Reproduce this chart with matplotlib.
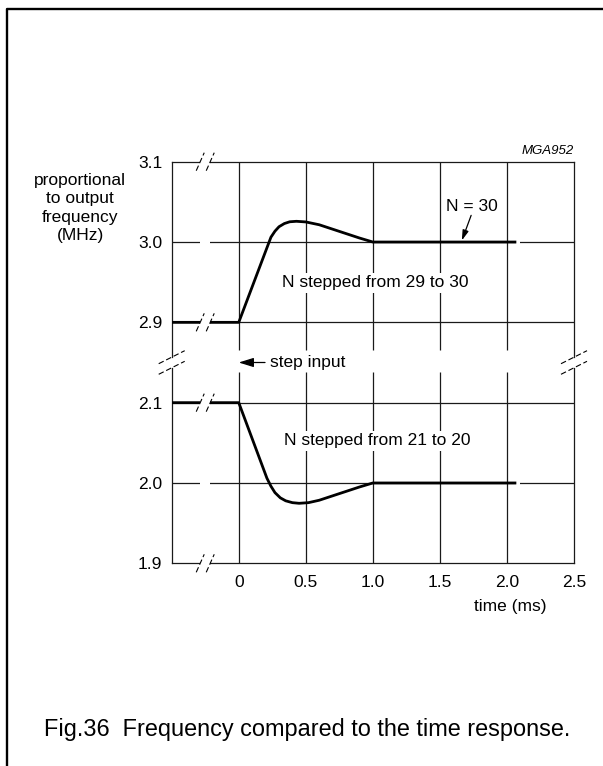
import matplotlib
matplotlib.use('Agg')
import matplotlib.pyplot as plt
from matplotlib.lines import Line2D

plt.rcParams['font.family'] = ['Liberation Sans', 'DejaVu Sans']

# ---------------- data ----------------
time_up = [-0.5, 0.0, 0.24, 0.27, 0.30, 0.34, 0.38, 0.43, 0.50, 0.60, 0.70, 0.80, 0.90, 1.0, 2.07]
freq_up = [2.9, 2.9, 3.006, 3.0135, 3.019, 3.023, 3.0252, 3.0258, 3.025, 3.0215, 3.016, 3.0105, 3.005, 3.0, 3.0]

time_dn = [-0.5, 0.0, 0.21, 0.24, 0.27, 0.31, 0.35, 0.40, 0.45, 0.52, 0.60, 0.70, 0.80, 0.90, 1.0, 2.07]
freq_dn = [2.1, 2.1, 2.006, 1.996, 1.988, 1.9815, 1.9778, 1.9755, 1.9747, 1.9755, 1.9785, 1.984, 1.9895, 1.995, 2.0, 2.0]

x_ticks = [0, 0.5, 1.0, 1.5, 2.0, 2.5]
x_tick_labels = ['0', '0.5', '1.0', '1.5', '2.0', '2.5']
x_grid = [0, 0.5, 1.0, 1.5, 2.0]
y_ticks_up = [2.9, 3.0, 3.1]
y_labels_up = ['2.9', '3.0', '3.1']
y_ticks_dn = [1.9, 2.0, 2.1]
y_labels_dn = ['1.9', '2.0', '2.1']

# ---------------- layout ----------------
W, H = 603, 766
fig = plt.figure(figsize=(W / 100, H / 100), dpi=100)
fig.patch.set_facecolor('white')


def fx(px):
    return px / W


def fy(py):
    return 1 - py / H


L, R = 171.7, 574.0
T, B, M = 161.7, 563.3, 362.5
ax_up = fig.add_axes([fx(L), fy(M), fx(R) - fx(L), fy(T) - fy(M)])
ax_dn = fig.add_axes([fx(L), fy(B), fx(R) - fx(L), fy(M) - fy(B)])
ax_up.patch.set_visible(False)
ax_dn.patch.set_visible(False)

ax_up.set_xlim(-0.5, 2.5)
ax_up.set_ylim(2.85, 3.1)
ax_dn.set_xlim(-0.5, 2.5)
ax_dn.set_ylim(1.9, 2.15)

pxx = 3.0 / (R - L)
pxy = 0.25 / (M - T)

LC = '#1a1a1a'
GLW = 0.9
FS = 12.5

for ax in (ax_up, ax_dn):
    for s in ax.spines.values():
        s.set_linewidth(GLW)
        s.set_color(LC)
ax_up.spines['bottom'].set_visible(False)
ax_dn.spines['top'].set_visible(False)
ax_up.spines['left'].set_bounds(2.85 + 5.5 * pxy, 3.1)
ax_up.spines['right'].set_bounds(2.85 + 5.5 * pxy, 3.1)
ax_dn.spines['left'].set_bounds(1.9, 2.15 - 5.5 * pxy)
ax_dn.spines['right'].set_bounds(1.9, 2.15 - 5.5 * pxy)

ax_up.set_xticks([])
ax_dn.set_xticks(x_ticks, x_tick_labels)
ax_dn.tick_params(axis='x', length=0, pad=8.4, labelsize=FS)
ax_up.set_yticks(y_ticks_up, y_labels_up)
ax_dn.set_yticks(y_ticks_dn, y_labels_dn)
for ax in (ax_up, ax_dn):
    ax.tick_params(axis='y', length=0, pad=6.8, labelsize=FS)

# grid
ax_up.vlines(x_grid, 2.85 + 12.5 * pxy, 3.1, color=LC, lw=GLW, zorder=1)
ax_dn.vlines(x_grid, 1.9, 2.15 - 9.2 * pxy, color=LC, lw=GLW, zorder=1)
ax_up.hlines([2.9, 3.0], -0.5, 2.5, color=LC, lw=GLW, zorder=1)
ax_dn.hlines([2.0, 2.1], -0.5, 2.5, color=LC, lw=GLW, zorder=1)

# curves
ax_up.plot(time_up, freq_up, color='black', lw=2.0, solid_capstyle='butt', zorder=4)
ax_dn.plot(time_dn, freq_dn, color='black', lw=2.0, solid_capstyle='butt', zorder=4)
ax_up.plot([time_up[-1], time_up[-1] + 4 * pxx], [freq_up[-1]] * 2, color='white', lw=3,
           solid_capstyle='butt', zorder=3.5)
ax_dn.plot([time_dn[-1], time_dn[-1] + 4 * pxx], [freq_dn[-1]] * 2, color='white', lw=3,
           solid_capstyle='butt', zorder=3.5)

# break marks on horizontal lines
XB = -0.25
DASH = (0, (5, 2.5))


def hbreak(ax, y, slashes=True):
    ax.plot([XB - 5 * pxx, XB + 5 * pxx], [y, y], color='white', lw=4,
            solid_capstyle='butt', zorder=6, clip_on=False)
    if slashes:
        for cx in (XB - 5 * pxx, XB + 5 * pxx):
            ax.plot([cx - 4 * pxx, cx + 4 * pxx], [y - 9 * pxy, y + 9 * pxy], color='black',
                    lw=0.8, ls=DASH, zorder=7, clip_on=False)


hbreak(ax_up, 3.1)
hbreak(ax_up, 3.0, slashes=False)
hbreak(ax_up, 2.9)
hbreak(ax_dn, 2.1)
hbreak(ax_dn, 2.0, slashes=False)
hbreak(ax_dn, 1.9)

# break marks on vertical axes
for xv in (-0.5, 2.5):
    for yc in (2.85 + 5.3 * pxy, 2.85 - 5.3 * pxy):
        ax_up.plot([xv - 13 * pxx, xv + 13 * pxx], [yc - 6.5 * pxy, yc + 6.5 * pxy],
                   color='black', lw=0.8, ls=DASH, zorder=7, clip_on=False)

# texts
ax_up.text(1.02, 2.949, 'N stepped from 29 to 30', ha='center', va='center', fontsize=FS,
           zorder=5, bbox=dict(facecolor='white', edgecolor='none', pad=1.5))
ax_dn.text(1.03, 2.0523, 'N stepped from 21 to 20', ha='center', va='center', fontsize=FS,
           zorder=5, bbox=dict(facecolor='white', edgecolor='none', pad=1.5))
ax_up.text(1.739, 3.0448, 'N = 30', ha='center', va='center', fontsize=FS, zorder=5)
ax_up.annotate('', xy=(1.664, 3.002), xytext=(1.733, 3.0332),
               arrowprops=dict(arrowstyle='-|>,head_length=0.6,head_width=0.18', color='black',
                               lw=0.9, shrinkA=0, shrinkB=0, mutation_scale=10), zorder=6)
ax_up.annotate('', xy=(0.0, 2.85), xytext=(0.196, 2.85), annotation_clip=False,
               arrowprops=dict(arrowstyle='-|>,head_length=0.9,head_width=0.28', color='black',
                               lw=0.9, shrinkA=0, shrinkB=0, mutation_scale=10), zorder=6)
ax_up.text(0.234, 2.85, 'step input', ha='left', va='center', fontsize=FS, clip_on=False)

fig.text(fx(574), fy(151.5), 'MGA952', ha='right', va='center', fontsize=9.5, style='italic')
fig.text(fx(80), fy(208), 'proportional\nto output\nfrequency\n(MHz)', ha='center', va='center',
         multialignment='center', fontsize=FS, linespacing=1.3)
fig.text(fx(510), fy(606), 'time (ms)', ha='center', va='center', fontsize=FS)
fig.text(fx(44), fy(736), 'Fig.36  Frequency compared to the time response.', ha='left',
         va='baseline', fontsize=16.9)

# frame
fig.add_artist(Line2D([fx(7.3), fx(7.3), 1.01], [-0.01, fy(8.5), fy(8.5)],
                      transform=fig.transFigure, color='black', lw=1.7))

fig.savefig('out.png', dpi=100)
